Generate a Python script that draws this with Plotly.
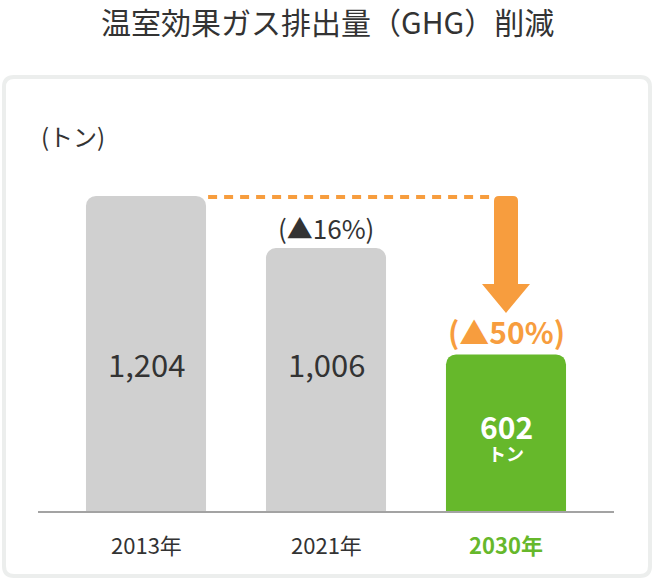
import plotly.graph_objects as go

# ---- data ----
years = ["2013年", "2021年", "2030年"]
emissions = [1204, 1006, 602]
value_labels = ["1,204", "1,006", "602"]
reduction_labels = ["", "(▲16%)", "(▲50%)"]
unit_label = "(トン)"
title_text = "温室効果ガス排出量（GHG）削減"

# ---- styling ----
FONT = "Noto Sans CJK JP"
GRAY = "#d0d0d0"
GREEN = "#66b82b"
ORANGE = "#f79d3e"
TEXT = "#333333"
bar_colors = [GRAY, GRAY, GREEN]

W, H = 654, 580
ML, MR, MT, MB = 38, 40, 144, 67
PW, PH = W - ML - MR, H - MT - MB
YMAX = 1401
XMIN, XMAX = -0.6, 2.6


def px_x(p):  # pixel -> paper x
    return (p - ML) / PW


def px_y(p):  # pixel -> paper y
    return (H - MB - p) / PH


fig = go.Figure()
fig.add_trace(go.Bar(
    x=years, y=emissions, width=0.667,
    marker=dict(color=bar_colors, line=dict(width=0), cornerradius=10),
    hoverinfo="skip",
))

shapes = []
annotations = []

# panel (rounded rectangle)
x0, x1, y0, y1, r = px_x(4), px_x(650), px_y(77), px_y(576), 10
rx, ry = r / PW, r / PH
panel_path = (
    f"M {x0+rx},{y0} L {x1-rx},{y0} Q {x1},{y0} {x1},{y0-ry} "
    f"L {x1},{y1+ry} Q {x1},{y1} {x1-rx},{y1} L {x0+rx},{y1} "
    f"Q {x0},{y1} {x0},{y1+ry} L {x0},{y0-ry} Q {x0},{y0} {x0+rx},{y0} Z"
)
shapes.append(dict(type="path", xref="paper", yref="paper", path=panel_path,
                   line=dict(color="#eceeed", width=4), fillcolor="white",
                   layer="below"))

# baseline
shapes.append(dict(type="line", xref="paper", yref="y", x0=0, x1=1, y0=0, y1=0,
                   line=dict(color="#a3a3a3", width=4), layer="above"))

# dashed line from 2013 top to the arrow
top = emissions[0]
shapes.append(dict(type="line", xref="x", yref="y", x0=0.345, x1=1.93,
                   y0=top - 4, y1=top - 4,
                   line=dict(color=ORANGE, width=4, dash="9px,7px")))

# arrow (shaft + head) at the 2030 category
cx = 2
sw = 12 / 180          # half shaft width in x units
hw = 24 / 180          # half head width
ypx = YMAX / PH        # tons per pixel
shaft_bottom = top - 88 * ypx
tip = top - 117 * ypx
cr_x, cr_y = 5 / 180, 5 * ypx
arrow_path = (
    f"M {cx-sw},{top-cr_y} Q {cx-sw},{top} {cx-sw+cr_x},{top} "
    f"L {cx+sw-cr_x},{top} Q {cx+sw},{top} {cx+sw},{top-cr_y} "
    f"L {cx+sw},{shaft_bottom} L {cx+hw},{shaft_bottom} L {cx},{tip} "
    f"L {cx-hw},{shaft_bottom} L {cx-sw},{shaft_bottom} Z"
)
shapes.append(dict(type="path", xref="x", yref="y", path=arrow_path,
                   fillcolor=ORANGE, line=dict(width=0)))

# title and unit
annotations.append(dict(text=title_text, xref="paper", yref="paper",
                        x=px_x(327), y=px_y(21), xanchor="center", yanchor="middle",
                        showarrow=False, font=dict(family=FONT, size=30, color=TEXT)))
annotations.append(dict(text=unit_label, xref="paper", yref="paper",
                        x=px_x(39), y=px_y(135), xanchor="left", yanchor="middle",
                        showarrow=False, font=dict(family=FONT, size=24, color=TEXT)))

# value labels inside bars
label_level = (H - MB - 363) * ypx
for i, (yr, lab) in enumerate(zip(years, value_labels)):
    if i < 2:
        annotations.append(dict(text=lab, x=yr, y=label_level, xref="x", yref="y",
                                showarrow=False, yanchor="middle",
                                font=dict(family=FONT, size=31, color=TEXT)))
    else:
        annotations.append(dict(text=f"<b>{lab}</b>", x=yr, y=emissions[i] / 2,
                                xref="x", yref="y", showarrow=False, yanchor="middle",
                                yshift=8, height=30,
                                font=dict(family=FONT, size=30, color="white")))
        annotations.append(dict(text="<b>トン</b>", x=yr, y=emissions[i] / 2,
                                xref="x", yref="y", showarrow=False, yanchor="middle",
                                yshift=-19, height=20,
                                font=dict(family=FONT, size=18, color="white")))

# reduction labels above bars
annotations.append(dict(text=reduction_labels[1], x=years[1], y=emissions[1],
                        xref="x", yref="y", showarrow=False, yanchor="middle",
                        yshift=21, font=dict(family=FONT, size=26, color=TEXT)))
annotations.append(dict(text=f"<b>{reduction_labels[2]}</b>", x=years[2], y=emissions[2],
                        xref="x", yref="y", showarrow=False, yanchor="middle",
                        yshift=23, font=dict(family=FONT, size=30, color=ORANGE)))

# x category labels
for i, yr in enumerate(years):
    is_last = i == len(years) - 1
    annotations.append(dict(text=f"<b>{yr}</b>" if is_last else yr, x=yr, y=0,
                            xref="x", yref="y", showarrow=False, yanchor="middle",
                            yshift=-31,
                            font=dict(family=FONT, size=22,
                                      color=GREEN if is_last else TEXT)))

fig.update_layout(
    width=W, height=H,
    margin=dict(l=ML, r=MR, t=MT, b=MB, pad=0),
    paper_bgcolor="white", plot_bgcolor="rgba(0,0,0,0)",
    showlegend=False,
    xaxis=dict(range=[XMIN, XMAX], showticklabels=False, showgrid=False,
               zeroline=False, showline=False, ticks="", fixedrange=True),
    yaxis=dict(range=[0, YMAX], showticklabels=False, showgrid=False,
               zeroline=False, showline=False, ticks="", fixedrange=True),
    shapes=shapes, annotations=annotations,
    font=dict(family=FONT),
)

fig.write_html("out.html", config={"displayModeBar": False},
               post_script="document.body.style.margin='0';document.body.style.padding='0';")
